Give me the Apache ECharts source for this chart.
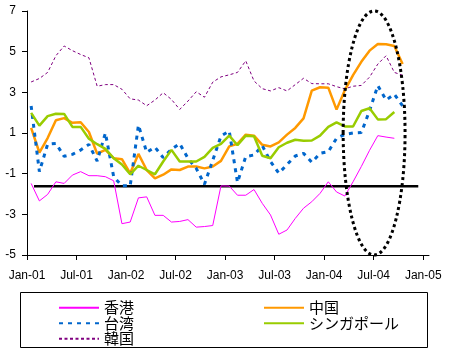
<!DOCTYPE html>
<html><head><meta charset="utf-8">
<script src="https://cdn.jsdelivr.net/npm/echarts@6/dist/echarts.min.js"></script>
<style>html,body{margin:0;padding:0;background:#fff}#c{width:450px;height:350px}</style>
</head><body><div id="c"></div>
<script>
// month index 0 = Jan-01
const xTickLabels = ['Jan-01','Jul-01','Jan-02','Jul-02','Jan-03','Jul-03','Jan-04','Jul-04','Jan-05'];
const xTickMonths = [0,6,12,18,24,30,36,42,48];
const yTicks = [-5,-3,-1,1,3,5,7];

const hongKong = [-1.48,-2.34,-2.02,-1.40,-1.48,-1.07,-0.90,-1.10,-1.10,-1.15,-1.35,-3.46,-3.38,-2.19,-2.14,-3.05,-3.05,-3.38,-3.35,-3.26,-3.63,-3.60,-3.55,-1.60,-1.61,-2.06,-2.06,-1.78,-2.46,-3.03,-3.98,-3.77,-3.20,-2.70,-2.38,-1.97,-1.40,-1.90,-2.10,-1.40,-0.65,0.15,0.87,0.80,0.74];
const china = [1.25,0.04,0.75,1.63,1.73,1.50,1.53,1.05,-0.02,0.17,-0.24,-0.29,-0.98,-0.03,-0.82,-1.23,-1.05,-0.79,-0.82,-0.65,-0.65,-0.74,-0.65,-0.37,0.34,0.47,0.92,0.87,0.42,0.34,0.54,0.92,1.25,1.72,3.08,3.25,3.23,2.15,3.10,3.85,4.50,5.05,5.38,5.36,5.28,4.39];
const taiwan = [2.33,-0.90,0.45,0.49,-0.15,-0.05,0.16,0.44,-0.38,1.00,-1.15,-1.60,-1.60,1.39,0.05,0.30,-0.21,0.20,0.48,-0.25,-0.74,-1.52,-0.35,0.85,1.10,-1.43,-0.16,-0.08,0.38,-0.40,-0.98,-0.55,-0.13,0.00,-0.44,0.00,0.08,0.74,0.93,1.00,1.02,2.10,3.33,2.62,2.90,2.34];
const singapore = [1.99,1.36,1.83,1.95,1.94,1.30,1.30,0.72,0.45,0.22,-0.24,-0.55,-1.03,-0.61,-0.82,-1.03,-0.40,0.17,-0.40,-0.40,-0.40,-0.17,0.27,0.47,0.87,0.40,0.87,0.84,-0.12,-0.24,0.30,0.52,0.67,0.62,0.63,0.87,1.30,1.52,1.32,1.32,2.08,2.22,1.67,1.68,2.03];
const korea = [3.51,3.68,3.98,4.80,5.28,5.05,4.86,4.70,3.30,3.38,3.38,3.15,2.68,2.62,2.34,2.62,2.98,2.65,2.16,2.57,3.03,2.76,3.50,3.76,3.86,3.98,4.55,3.56,3.18,3.07,3.23,3.07,3.38,3.69,3.43,3.42,3.42,3.28,3.17,3.30,3.34,3.75,4.39,4.80,3.98,3.84];

// reference level line and highlighted region (data units)
const refLevel = -1.62;
const refSpanMonths = [0.85, 47.4];
const highlightEllipse = [42.05, 1.0, 3.75, 6.0]; // center month, center value, radius months, radius value

function toPoints(arr){ return arr.map((v,i)=>[i+0.5, v]); }

const chart = echarts.init(document.getElementById('c'), null, {renderer:'canvas'});
const labelFont = {fontFamily:'"Liberation Sans", Arial, sans-serif', fontSize:12, color:'#000'};
const legendText = {fontFamily:'"Noto Sans CJK JP", sans-serif', fontSize:15, lineHeight:15.5, color:'#000'};

function lineSeries(name, data, color, width, dash){
  return {
    name, type:'line', data:toPoints(data), symbol:'none', showSymbol:false,
    lineStyle:{color, width, type: dash || 'solid', cap:'butt'},
    itemStyle:{color}, silent:true, z:3
  };
}
const legendCommon = {orient:'vertical', top:300, padding:0, itemGap:0, itemWidth:40, itemHeight:14,
  textStyle:legendText, selectedMode:false, itemStyle:{opacity:0, borderWidth:0}};

chart.setOption({
  animation:false,
  backgroundColor:'#fff',
  grid:{left:27, right:21, top:11, bottom:95, containLabel:false, outerBoundsMode:'none'},
  xAxis:{
    type:'value', min:0, max:48.7, interval:6,
    axisLine:{show:true, onZero:false, lineStyle:{color:'#000', width:1}},
    axisTick:{show:true, length:5, customValues:xTickMonths, lineStyle:{color:'#000'}},
    axisLabel:{...labelFont, margin:15, customValues:xTickMonths,
      formatter:v=>{const k=xTickMonths.indexOf(Math.round(v)); return k>=0?xTickLabels[k]:'';}},
    splitLine:{show:false}
  },
  yAxis:{
    type:'value', min:yTicks[0], max:yTicks[yTicks.length-1], interval:2,
    axisLine:{show:true, onZero:false, lineStyle:{color:'#000', width:1}},
    axisTick:{show:true, length:5, lineStyle:{color:'#000'}},
    axisLabel:{...labelFont, margin:11},
    splitLine:{show:false}
  },
  legend:[
    {...legendCommon, left:58, data:['香港','台湾','韓国']},
    {...legendCommon, left:263, data:['中国','シンガポール']}
  ],
  graphic:[
    {type:'rect', shape:{x:20.5, y:292.5, width:407, height:55}, style:{fill:null, stroke:'#000', lineWidth:1}, silent:true}
  ],
  series:[
    {name:'ref', type:'line', data:[[refSpanMonths[0], refLevel],[refSpanMonths[1], refLevel]], symbol:'none',
     lineStyle:{color:'#000', width:2.5}, silent:true, z:2},
    lineSeries('香港', hongKong, '#FF00FF', 1),
    lineSeries('中国', china, '#FF9900', 2.5),
    lineSeries('台湾', taiwan, '#0066CC', 3, [4,5]),
    lineSeries('シンガポール', singapore, '#99CC00', 2.5),
    lineSeries('韓国', korea, '#800080', 1, [3,2.5]),
    {name:'highlight', type:'custom', data:[highlightEllipse], clip:false, silent:true, z:5,
     renderItem:function(params, api){
       const c = api.coord([api.value(0), api.value(1)]);
       const s = api.size([api.value(2), api.value(3)]);
       return {type:'ellipse', shape:{cx:c[0], cy:c[1], rx:s[0], ry:s[1]},
               style:{fill:null, stroke:'#000', lineWidth:3, lineDash:[3,3]}};
     }}
  ]
});
</script>
</body></html>
